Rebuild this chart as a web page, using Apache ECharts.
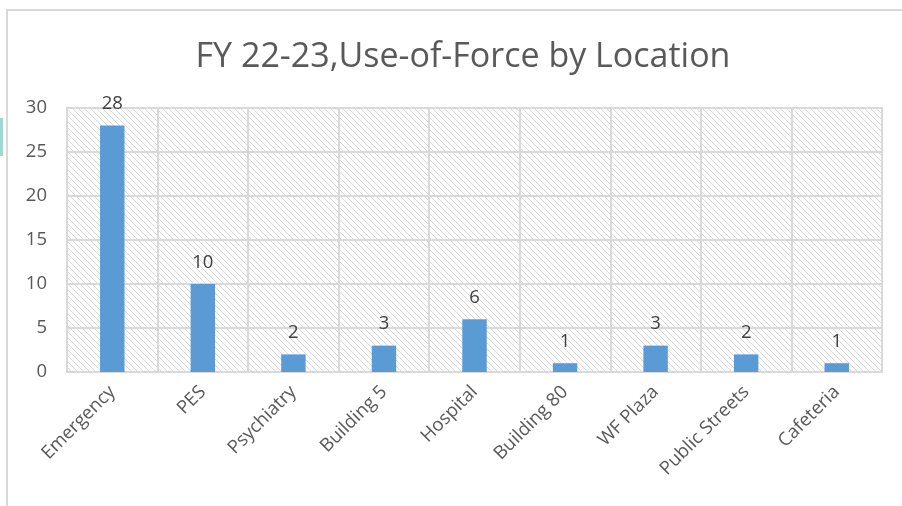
<!DOCTYPE html>
<html>
<head>
<meta charset="utf-8">
<script src="https://cdn.jsdelivr.net/npm/echarts@6/dist/echarts.min.js"></script>
<style>html,body{margin:0;padding:0;background:#fff;}#c{width:902px;height:506px;}</style>
</head>
<body>
<div id="c"></div>
<script>
const categories = ['Emergency','PES','Psychiatry','Building 5','Hospital','Building 80','WF Plaza','Public Streets','Cafeteria'];
const values = [28,10,2,3,6,1,3,2,1];
const yTicks = [0,5,10,15,20,25,30];

// hatch pattern
const pc = document.createElement('canvas');
pc.width = 6; pc.height = 6;
const px = pc.getContext('2d');
px.fillStyle = '#ffffff'; px.fillRect(0,0,6,6);
px.strokeStyle = '#d8d8d8'; px.lineWidth = 1;
px.beginPath();
px.moveTo(-1,-1); px.lineTo(7,7);
px.moveTo(-1,5); px.lineTo(1,7);
px.moveTo(5,-1); px.lineTo(7,1);
px.stroke();

const chart = echarts.init(document.getElementById('c'), null, {renderer:'canvas'});
const font = '"Open Sans", sans-serif';
chart.setOption({
  animation:false,
  backgroundColor:'#ffffff',
  title:{text:'FY 22-23,Use-of-Force by Location', left:458, textAlign:'center', top:35,
    textStyle:{fontFamily:font, fontSize:34, fontWeight:'normal', color:'#595959'}},
  graphic:[
    {type:'rect', shape:{x:7,y:10,width:1000,height:600}, style:{fill:'none', stroke:'#d9d9d9', lineWidth:2}, silent:true},
    {type:'rect', shape:{x:0,y:118,width:3,height:38}, style:{fill:'#9fd8d3'}, silent:true}
  ],
  grid:{left:67, right:20, top:108, bottom:134, show:true, backgroundColor:{image:pc, repeat:'repeat'}, borderColor:'#d9d9d9', borderWidth:2},
  xAxis:{type:'category', data:categories,
    axisLine:{show:true, lineStyle:{color:'#d9d9d9', width:2}},
    axisTick:{show:false},
    splitLine:{show:true, lineStyle:{color:'#d9d9d9', width:2}},
    axisLabel:{interval:0, rotate:45, margin:17, fontFamily:font, fontSize:18.5, color:'#595959'}},
  yAxis:{type:'value', min:0, max:30, interval:5,
    axisLine:{show:false}, axisTick:{show:false},
    splitLine:{lineStyle:{color:'#d9d9d9', width:2}},
    axisLabel:{margin:20, fontFamily:font, fontSize:18.5, color:'#595959',
      formatter:v=>yTicks.includes(v)?String(v):''}},
  series:[{type:'bar', data:values, barWidth:'27%',
    itemStyle:{color:'#5b9bd5'},
    label:{show:true, position:'top', distance:12, fontFamily:font, fontSize:18.5, color:'#404040'}}]
});
</script>
</body>
</html>
